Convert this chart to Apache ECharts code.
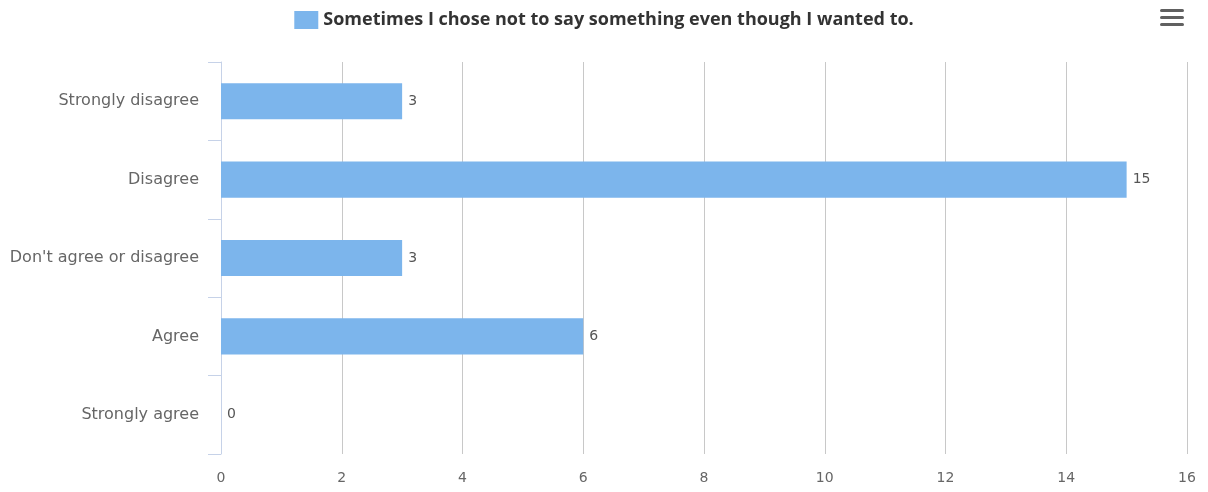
<!DOCTYPE html>
<html>
<head>
<meta charset="utf-8">
<script src="https://cdn.jsdelivr.net/npm/echarts@6/dist/echarts.min.js"></script>
<style>
  html, body { margin: 0; padding: 0; background: #fff; }
  #chart { width: 1208px; height: 492px; }
</style>
</head>
<body>
<div id="chart"></div>
<script>
// Survey responses for one statement
const seriesName = 'Sometimes I chose not to say something even though I wanted to.';
const categories = ['Strongly disagree', 'Disagree', "Don't agree or disagree", 'Agree', 'Strongly agree'];
const counts = [3, 15, 3, 6, 0];
const valueTicks = [0, 2, 4, 6, 8, 10, 12, 14, 16];

const labelFont = '"DejaVu Sans", sans-serif';
const legendFont = '"Open Sans", "DejaVu Sans", sans-serif';
const chart = echarts.init(document.getElementById('chart'));

chart.setOption({
  animation: false,
  textStyle: { fontFamily: labelFont },
  legend: {
    top: 6,
    left: 'center',
    itemWidth: 24,
    itemHeight: 18,
    itemGap: 8,
    icon: 'rect',
    textStyle: { fontSize: 18, fontWeight: 'bold', color: '#333', fontFamily: legendFont },
    data: [seriesName]
  },
  grid: { left: 221, right: 21, top: 62, bottom: 38, containLabel: false },
  xAxis: {
    type: 'value',
    min: valueTicks[0],
    max: valueTicks[valueTicks.length - 1],
    interval: valueTicks[1] - valueTicks[0],
    axisLine: { show: false },
    axisTick: { show: false },
    axisLabel: { color: '#666', fontSize: 14, margin: 17, fontFamily: labelFont },
    splitLine: { show: true, lineStyle: { color: '#c8c8c8', width: 1 } }
  },
  yAxis: {
    type: 'category',
    inverse: true,
    data: categories,
    axisLine: { show: true, lineStyle: { color: '#c6d2e8', width: 1 } },
    axisTick: { show: true, length: 13, lineStyle: { color: '#c6d2e8' } },
    axisLabel: { color: '#666', fontSize: 16, margin: 22, fontFamily: labelFont },
    splitLine: { show: false }
  },
  series: [{
    name: seriesName,
    type: 'bar',
    data: counts,
    barWidth: '46%',
    itemStyle: { color: '#7cb5ec' },
    label: {
      show: true,
      position: 'right',
      distance: 6,
      color: '#555',
      fontSize: 14,
      fontFamily: labelFont
    }
  }],
  graphic: [
    { type: 'rect', shape: { x: 1160, y: 9, width: 24, height: 3, r: 1.5 }, style: { fill: '#606060' } },
    { type: 'rect', shape: { x: 1160, y: 16, width: 24, height: 3, r: 1.5 }, style: { fill: '#606060' } },
    { type: 'rect', shape: { x: 1160, y: 23, width: 24, height: 3, r: 1.5 }, style: { fill: '#606060' } }
  ]
});
</script>
</body>
</html>
